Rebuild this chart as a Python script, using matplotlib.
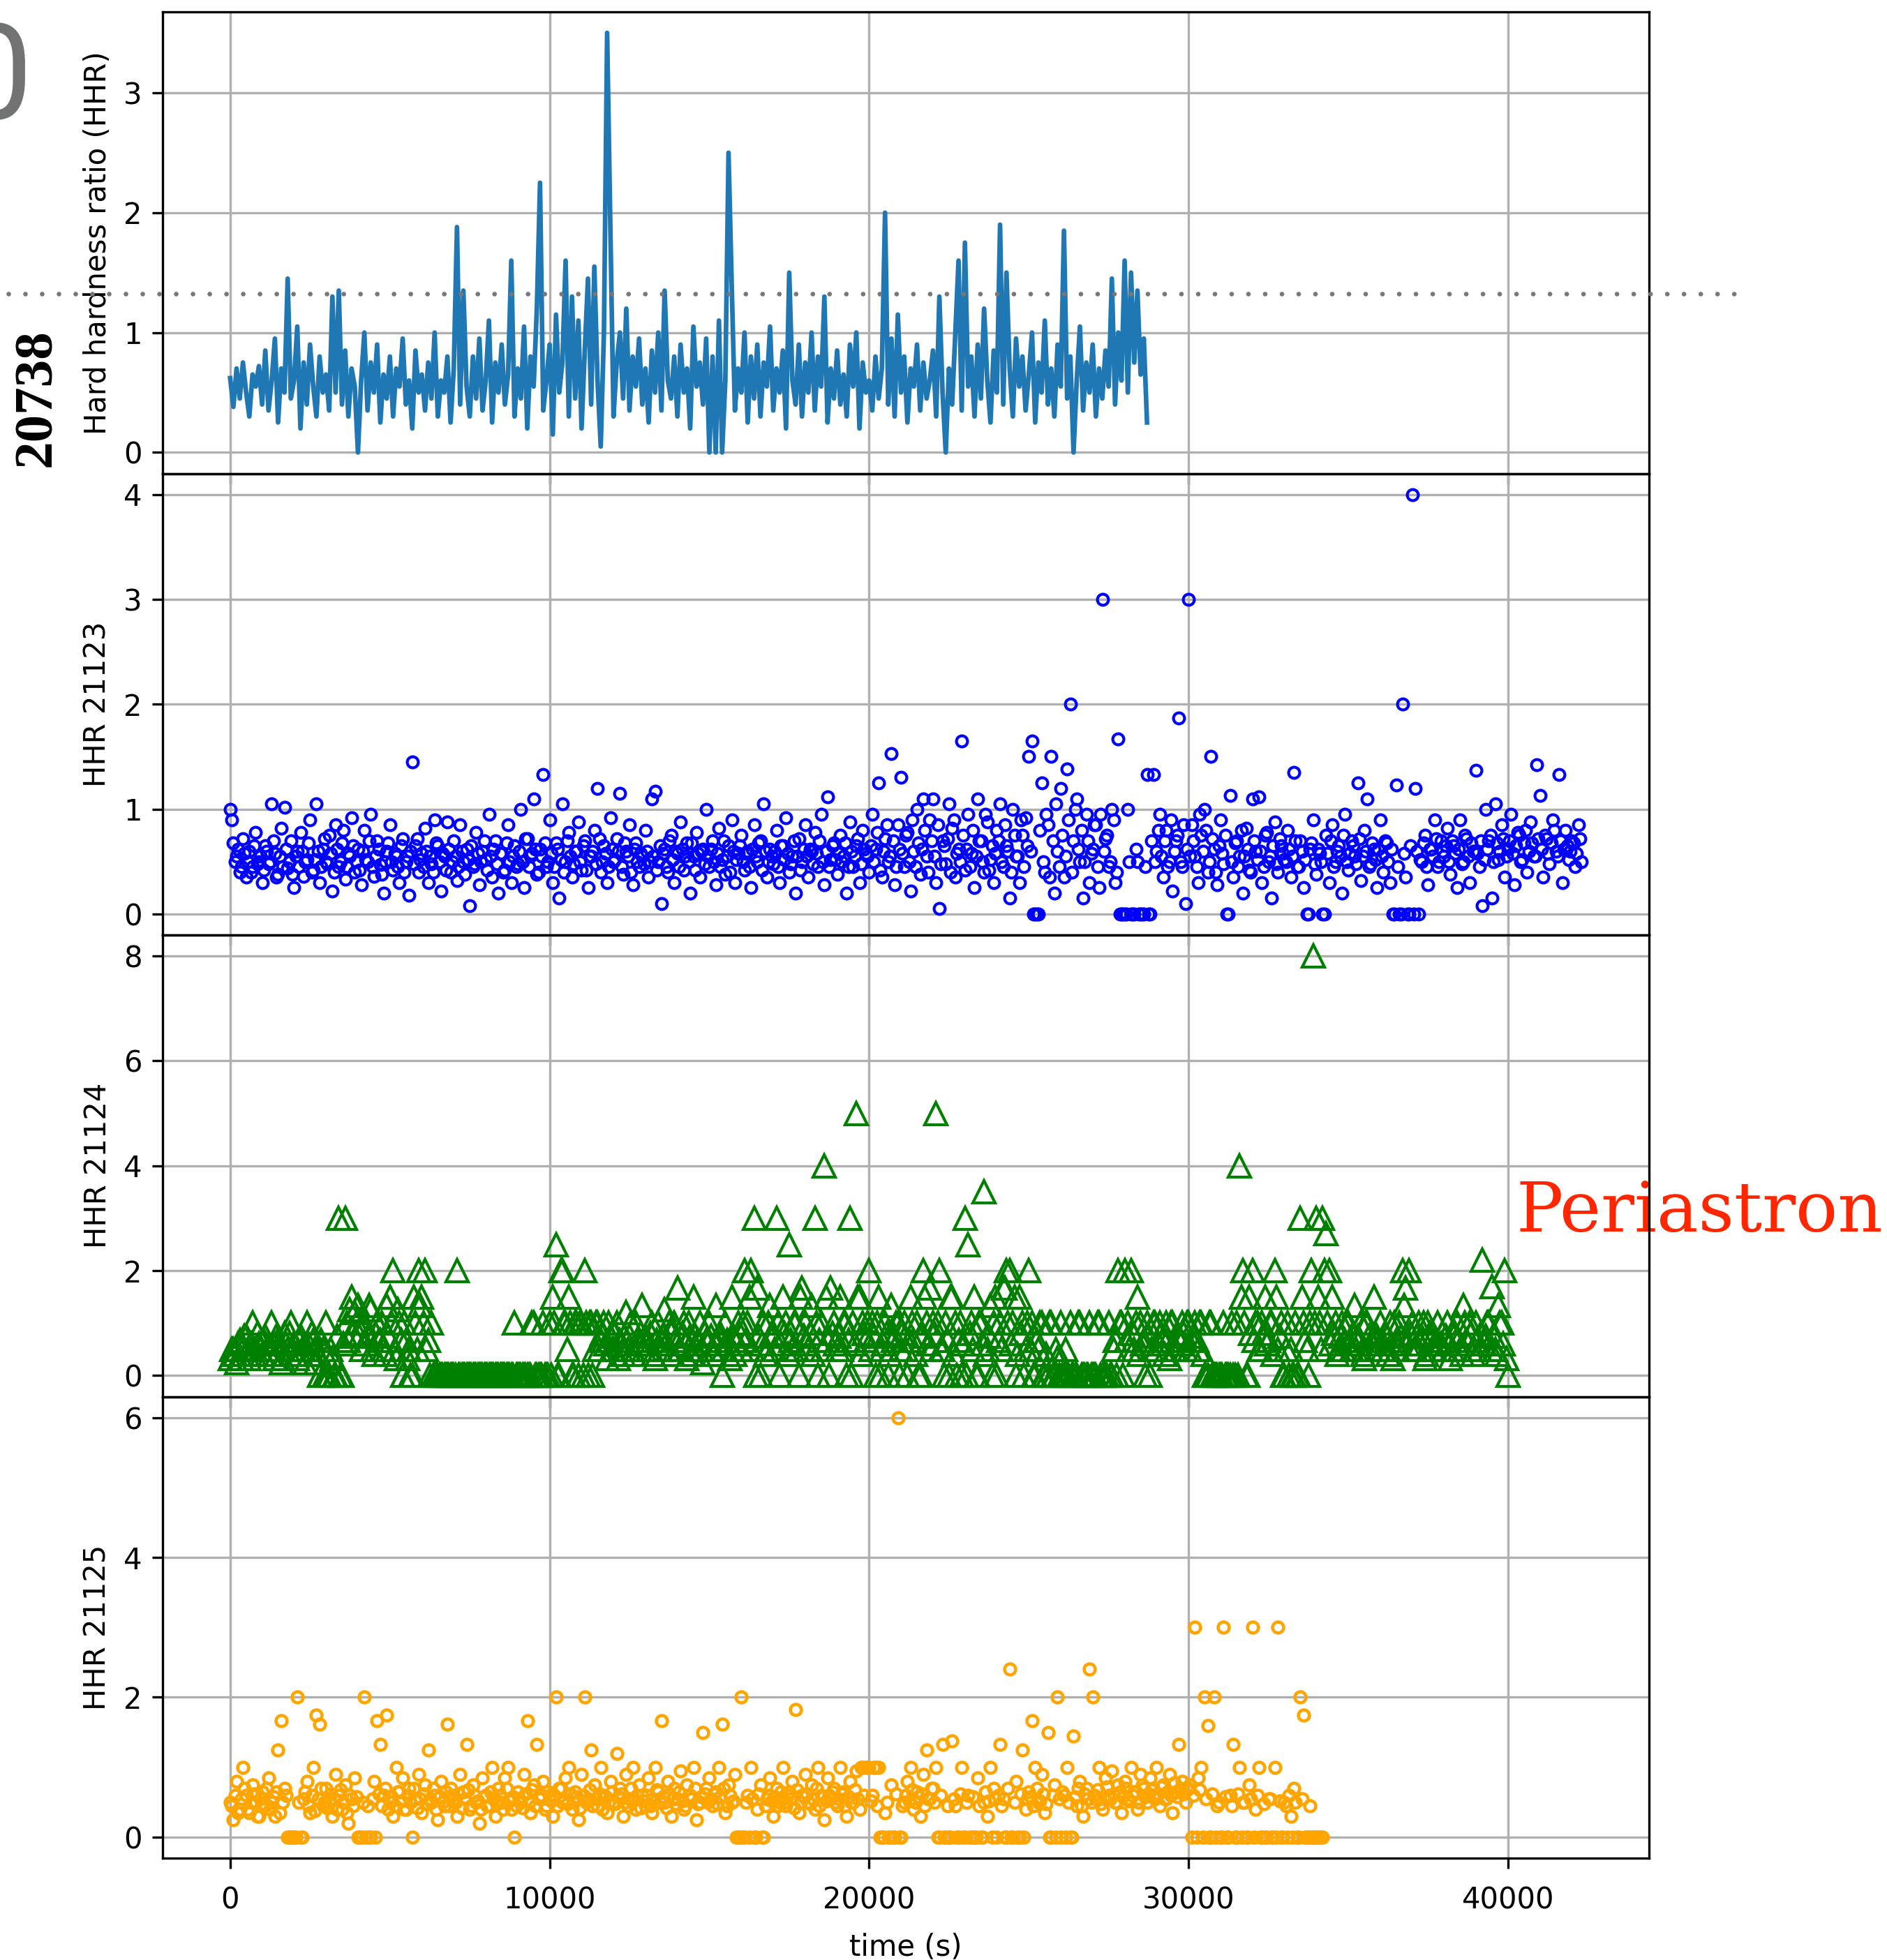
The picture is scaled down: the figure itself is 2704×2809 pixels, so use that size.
import numpy as np
import matplotlib.pyplot as plt
from matplotlib.lines import Line2D
from matplotlib import transforms
from matplotlib.ticker import MultipleLocator

# hardness ratio bins, one value every 100 s
# the *_b lists are the bins shifted by half a step (50 s)
t_step = 100

hhr_20738 = [
    0.62, 0.38, 0.70, 0.45, 0.75, 0.50, 0.30, 0.65, 0.55, 0.72,
    0.40, 0.85, 0.35, 0.60, 0.95, 0.25, 0.70, 0.50, 1.45, 0.45,
    0.60, 1.05, 0.20, 0.75, 0.40, 0.90, 0.55, 0.30, 0.80, 0.50,
    0.65, 0.35, 1.30, 0.50, 1.35, 0.40, 0.85, 0.30, 0.70, 0.55,
    0.00, 0.60, 1.00, 0.35, 0.75, 0.50, 0.90, 0.25, 0.65, 0.45,
    0.80, 0.30, 0.70, 0.55, 0.95, 0.40, 0.60, 0.20, 0.85, 0.50,
    0.65, 0.35, 0.75, 0.45, 1.00, 0.30, 0.60, 0.50, 0.80, 0.25,
    0.70, 1.88, 0.40, 1.35, 0.55, 0.30, 0.80, 0.45, 0.95, 0.35,
    0.60, 1.10, 0.25, 0.75, 0.50, 0.90, 0.40, 0.65, 1.60, 0.30,
    0.70, 0.45, 1.05, 0.20, 0.80, 0.55, 1.20, 2.25, 0.35, 0.60,
    0.90, 0.15, 1.15, 0.50, 0.75, 1.60, 0.30, 1.30, 0.45, 1.10,
    0.20, 0.85, 1.45, 0.40, 1.55, 0.60, 0.05, 1.00, 3.50, 1.90,
    0.30, 0.75, 1.00, 0.45, 1.20, 0.35, 0.80, 0.55, 0.95, 0.40,
    0.70, 0.25, 0.85, 0.50, 1.00, 0.35, 1.35, 0.60, 0.45, 0.80,
    0.30, 0.90, 0.50, 0.70, 0.20, 1.05, 0.55, 0.75, 0.40, 0.95,
    0.00, 0.80, 0.00, 1.10, 0.00, 0.60, 2.50, 1.40, 0.35, 0.70,
    0.50, 1.00, 0.25, 0.80, 0.45, 0.90, 0.30, 0.75, 0.55, 1.05,
    0.35, 0.70, 0.50, 0.85, 0.20, 1.50, 0.60, 0.40, 0.90, 0.30,
    0.75, 0.50, 1.00, 0.35, 0.80, 0.55, 1.30, 0.25, 0.70, 0.45,
    0.85, 0.40, 0.65, 0.30, 0.90, 0.55, 1.00, 0.20, 0.75, 0.50,
    0.60, 0.35, 0.80, 0.45, 0.70, 2.00, 0.40, 0.95, 0.30, 1.15,
    0.50, 0.80, 0.25, 0.70, 0.55, 0.90, 0.35, 0.75, 0.45, 0.60,
    0.85, 0.30, 1.30, 0.50, 0.00, 0.70, 0.40, 1.00, 1.60, 0.35,
    1.75, 0.55, 0.80, 0.30, 0.90, 0.45, 1.20, 0.60, 0.25, 0.85,
    0.50, 1.90, 0.40, 1.50, 0.70, 0.30, 0.95, 0.55, 0.80, 0.35,
    0.65, 1.00, 0.25, 0.75, 0.50, 1.10, 0.40, 0.70, 0.30, 0.90,
    0.55, 1.85, 0.45, 0.80, 0.00, 0.60, 1.05, 0.35, 0.75, 0.50,
    0.90, 0.30, 0.70, 0.45, 0.85, 0.55, 1.45, 0.40, 1.00, 0.60,
    1.60, 0.50, 1.50, 0.75, 1.35, 0.65, 0.95, 0.25,
]

hhr_21123 = [
    1.00, 0.68, 0.55, 0.40, 0.72, 0.35, 0.60, 0.45, 0.78, 0.50,
    0.30, 0.65, 0.48, 1.05, 0.58, 0.38, 0.82, 1.02, 0.44, 0.70,
    0.25, 0.60, 0.78, 0.36, 0.52, 0.90, 0.42, 1.05, 0.30, 0.62,
    0.50, 0.75, 0.22, 0.85, 0.45, 0.68, 0.33, 0.58, 0.92, 0.40,
    0.62, 0.28, 0.80, 0.50, 0.95, 0.36, 0.70, 0.47, 0.20, 0.60,
    0.85, 0.42, 0.55, 0.30, 0.72, 0.50, 0.18, 1.45, 0.65, 0.40,
    0.58, 0.82, 0.30, 0.48, 0.90, 0.65, 0.22, 0.55, 0.88, 0.40,
    0.70, 0.32, 0.85, 0.50, 0.62, 0.08, 0.45, 0.78, 0.28, 0.60,
    0.52, 0.95, 0.35, 0.70, 0.20, 0.58, 0.42, 0.85, 0.30, 0.65,
    0.48, 1.00, 0.25, 0.72, 0.55, 1.10, 0.38, 0.62, 1.33, 0.45,
    0.90, 0.30, 0.68, 0.15, 1.05, 0.50, 0.78, 0.35, 0.60, 0.88,
    0.42, 0.70, 0.25, 0.55, 0.80, 1.20, 0.40, 0.65, 0.30, 0.92,
    0.50, 0.72, 1.15, 0.38, 0.60, 0.85, 0.28, 0.68, 0.45, 0.55,
    0.80, 0.35, 1.10, 1.17, 0.50, 0.10, 0.62, 0.40, 0.75, 0.30,
    0.58, 0.88, 0.42, 0.68, 0.20, 0.55, 0.78, 0.35, 0.62, 1.00,
    0.45, 0.70, 0.28, 0.82, 0.52, 0.38, 0.65, 0.90, 0.30, 0.58,
    0.75, 0.42, 0.60, 0.25, 0.85, 0.50, 0.70, 1.05, 0.35, 0.62,
    0.48, 0.80, 0.30, 0.65, 0.92, 0.40, 0.55, 0.20, 0.72, 0.50,
    0.85, 0.35, 0.60, 0.78, 0.45, 0.95, 0.28, 1.12, 0.52, 0.68,
    0.38, 0.75, 0.55, 0.20, 0.88, 0.45, 0.65, 0.30, 0.80, 0.58,
    0.40, 0.95, 0.62, 1.25, 0.35, 0.72, 0.50, 1.53, 0.28, 0.85,
    1.30, 0.45, 0.78, 0.22, 0.60, 1.00, 0.38, 1.10, 0.55, 0.90,
    1.10, 0.30, 0.05, 0.70, 0.48, 1.05, 0.82, 0.35, 0.62, 1.65,
    0.42, 0.95, 0.58, 0.25, 1.10, 0.70, 0.40, 0.88, 0.52, 0.30,
    0.80, 1.05, 0.45, 0.65, 0.15, 1.00, 0.55, 0.30, 0.75, 0.92,
    1.50, 1.65, 0.00, 0.00, 1.25, 0.40, 0.85, 1.50, 0.20, 0.60,
    1.20, 0.35, 1.38, 2.00, 0.70, 1.10, 0.50, 0.15, 0.95, 0.30,
    0.62, 0.85, 0.25, 3.00, 0.72, 0.45, 1.00, 0.30, 1.67, 0.00,
    0.00, 1.00, 0.00, 0.00, 0.50, 0.00, 0.00, 1.33, 0.00, 1.33,
    0.60, 0.95, 0.35, 0.80, 0.50, 0.22, 0.70, 1.87, 0.45, 0.10,
    3.00, 0.85, 0.55, 0.30, 0.75, 1.00, 0.40, 1.50, 0.62, 0.28,
    0.90, 0.48, 0.00, 1.13, 0.35, 0.70, 0.55, 0.20, 0.82, 0.42,
    1.10, 0.60, 1.12, 0.30, 0.75, 0.50, 0.15, 0.88, 0.40, 0.65,
    0.52, 0.80, 0.35, 1.35, 0.45, 0.70, 0.25, 0.00, 0.62, 0.90,
    0.38, 0.58, 0.00, 0.75, 0.30, 0.85, 0.50, 0.65, 0.20, 0.95,
    0.42, 0.70, 0.55, 1.25, 0.32, 0.80, 1.10, 0.48, 0.62, 0.25,
    0.90, 0.40, 0.68, 0.30, 0.00, 1.23, 0.00, 2.00, 0.35, 0.00,
    4.00, 1.20, 0.00, 0.50, 0.75, 0.28, 0.62, 0.90, 0.45, 0.70,
    0.55, 0.82, 0.38, 0.65, 0.25, 0.90, 0.50, 0.72, 0.30, 0.60,
    1.37, 0.45, 0.08, 1.00, 0.70, 0.15, 1.05, 0.52, 0.85, 0.35,
    0.62, 0.95, 0.28, 0.78, 0.50, 0.68, 0.40, 0.88, 0.55, 1.42,
    1.13, 0.35, 0.72, 0.48, 0.90, 0.60, 1.33, 0.30, 0.80, 0.52,
    0.70, 0.45, 0.85, 0.50,
]

hhr_21123_b = [
    0.90, 0.50, 0.62, 0.45, 0.58, 0.50, 0.40, 0.65, 0.48, 0.55,
    0.42, 0.60, 0.50, 0.70, 0.35, 0.55, 0.45, 0.62, 0.50, 0.38,
    0.55, 0.45, 0.60, 0.50, 0.68, 0.40, 0.52, 0.60, 0.45, 0.72,
    0.48, 0.58, 0.40, 0.62, 0.50, 0.80, 0.45, 0.55, 0.65, 0.50,
    0.42, 0.60, 0.52, 0.70, 0.45, 0.55, 0.62, 0.38, 0.50, 0.68,
    0.50, 0.58, 0.45, 0.65, 0.40, 0.55, 0.60, 0.48, 0.72, 0.52,
    0.45, 0.60, 0.55, 0.40, 0.68, 0.50, 0.58, 0.42, 0.62, 0.50,
    0.55, 0.45, 0.60, 0.38, 0.52, 0.65, 0.48, 0.58, 0.50, 0.70,
    0.42, 0.55, 0.62, 0.48, 0.58, 0.40, 0.68, 0.50, 0.55, 0.45,
    0.60, 0.50, 0.72, 0.45, 0.58, 0.62, 0.40, 0.55, 0.68, 0.50,
    0.58, 0.45, 0.62, 0.52, 0.40, 0.70, 0.55, 0.48, 0.60, 0.50,
    0.65, 0.42, 0.55, 0.60, 0.48, 0.72, 0.50, 0.58, 0.45, 0.62,
    0.52, 0.60, 0.45, 0.68, 0.55, 0.40, 0.62, 0.50, 0.58, 0.48,
    0.60, 0.50, 0.55, 0.42, 0.65, 0.58, 0.45, 0.70, 0.52, 0.60,
    0.45, 0.62, 0.55, 0.50, 0.68, 0.42, 0.58, 0.60, 0.48, 0.55,
    0.62, 0.50, 0.58, 0.45, 0.70, 0.55, 0.40, 0.60, 0.52, 0.65,
    0.50, 0.58, 0.45, 0.62, 0.55, 0.68, 0.42, 0.60, 0.50, 0.55,
    0.60, 0.45, 0.65, 0.52, 0.58, 0.48, 0.70, 0.55, 0.42, 0.62,
    0.55, 0.62, 0.48, 0.58, 0.70, 0.50, 0.60, 0.45, 0.65, 0.52,
    0.58, 0.50, 0.68, 0.45, 0.60, 0.55, 0.72, 0.48, 0.62, 0.55,
    0.65, 0.50, 0.78, 0.42, 0.60, 0.85, 0.55, 0.70, 0.45, 0.62,
    0.58, 0.75, 0.50, 0.90, 0.45, 0.68, 0.62, 0.80, 0.40, 0.70,
    0.55, 0.85, 0.48, 0.65, 0.72, 0.40, 0.90, 0.58, 0.50, 0.75,
    0.62, 0.45, 0.80, 0.55, 0.70, 0.50, 0.95, 0.42, 0.65, 0.58,
    0.70, 0.50, 0.85, 0.60, 0.40, 0.75, 0.55, 0.90, 0.45, 0.65,
    0.60, 0.00, 0.00, 0.80, 0.50, 0.95, 0.35, 0.70, 1.05, 0.45,
    0.75, 0.55, 0.90, 0.40, 1.00, 0.62, 0.80, 0.50, 0.70, 0.58,
    0.85, 0.45, 0.95, 0.60, 0.75, 0.50, 0.90, 0.40, 0.00, 0.00,
    0.00, 0.50, 0.00, 0.62, 0.00, 0.00, 0.45, 0.00, 0.70, 0.50,
    0.80, 0.55, 0.70, 0.45, 0.90, 0.60, 0.75, 0.50, 0.85, 0.62,
    0.55, 0.70, 0.45, 0.95, 0.60, 0.80, 0.50, 0.72, 0.40, 0.65,
    0.58, 0.75, 0.00, 0.50, 0.68, 0.45, 0.80, 0.55, 0.62, 0.40,
    0.70, 0.52, 0.60, 0.45, 0.78, 0.55, 0.65, 0.48, 0.72, 0.58,
    0.50, 0.62, 0.55, 0.70, 0.45, 0.60, 0.52, 0.00, 0.68, 0.48,
    0.62, 0.50, 0.00, 0.58, 0.70, 0.45, 0.60, 0.55, 0.75, 0.50,
    0.58, 0.65, 0.48, 0.72, 0.55, 0.60, 0.45, 0.68, 0.52, 0.62,
    0.55, 0.70, 0.50, 0.62, 0.00, 0.45, 0.00, 0.58, 0.00, 0.65,
    0.00, 0.60, 0.52, 0.68, 0.45, 0.62, 0.55, 0.72, 0.50, 0.60,
    0.65, 0.50, 0.70, 0.58, 0.62, 0.48, 0.75, 0.55, 0.68, 0.60,
    0.58, 0.70, 0.52, 0.62, 0.75, 0.50, 0.68, 0.60, 0.72, 0.55,
    0.70, 0.58, 0.65, 0.75, 0.52, 0.80, 0.60, 0.68, 0.55, 0.72,
    0.62, 0.75, 0.58, 0.68, 0.80, 0.55, 0.70, 0.62, 0.65, 0.60,
    0.68, 0.58, 0.72,
]

hhr_21124 = [
    0.33, 0.50, 0.25, 0.67, 0.50, 0.75, 0.33, 1.00, 0.50, 0.60,
    0.40, 0.75, 0.50, 1.00, 0.33, 0.67, 0.25, 0.80, 0.50, 1.00,
    0.60, 0.33, 0.75, 0.50, 1.00, 0.40, 0.67, 0.25, 0.00, 0.50,
    1.00, 0.00, 0.33, 0.00, 3.00, 0.00, 3.00, 0.67, 1.50, 1.20,
    1.33, 0.50, 1.00, 0.75, 1.25, 0.40, 1.00, 0.67, 0.50, 1.33,
    1.50, 2.00, 0.33, 1.00, 0.00, 0.67, 0.50, 0.00, 1.00, 2.00,
    1.50, 2.00, 0.67, 1.00, 0.00, 0.00, 0.00, 0.00, 0.00, 0.00,
    0.00, 2.00, 0.00, 0.00, 0.00, 0.00, 0.00, 0.00, 0.00, 0.00,
    0.00, 0.00, 0.00, 0.00, 0.00, 0.00, 0.00, 0.00, 0.00, 1.00,
    0.00, 0.00, 0.00, 0.00, 0.00, 1.00, 0.00, 0.00, 1.00, 0.00,
    1.00, 1.50, 2.50, 0.00, 2.00, 1.00, 1.50, 0.00, 1.00, 0.00,
    1.00, 2.00, 0.00, 1.00, 0.50, 1.00, 0.67, 1.00, 0.33, 0.75,
    0.50, 1.00, 0.67, 0.40, 1.20, 0.75, 0.50, 1.00, 0.60, 1.33,
    0.75, 0.50, 1.00, 0.33, 1.00, 0.67, 1.25, 0.50, 0.80, 1.00,
    1.67, 0.50, 1.00, 0.33, 0.75, 1.50, 0.50, 1.00, 0.25, 0.67,
    1.00, 0.50, 1.33, 0.75, 0.00, 1.00, 0.60, 1.50, 0.40, 1.00,
    0.50, 2.00, 1.00, 2.00, 3.00, 1.67, 0.00, 1.00, 0.50, 1.33,
    0.75, 3.00, 0.00, 1.50, 1.00, 2.50, 0.50, 1.00, 0.00, 1.67,
    1.00, 0.50, 1.33, 3.00, 0.00, 1.00, 4.00, 0.67, 1.67, 1.00,
    0.50, 1.50, 1.00, 0.00, 3.00, 1.00, 5.00, 1.50, 1.00, 0.67,
    2.00, 1.00, 0.00, 1.50, 0.50, 1.00, 0.00, 1.33, 0.75, 1.00,
    0.50, 1.00, 0.00, 1.50, 0.67, 1.00, 0.00, 2.00, 1.00, 1.67,
    1.00, 5.00, 2.00, 0.50, 1.00, 0.00, 1.50, 1.00, 0.67, 0.00,
    3.00, 2.50, 1.00, 1.50, 0.00, 1.00, 3.50, 0.50, 1.33, 1.00,
    0.00, 1.00, 1.67, 2.00, 2.00, 1.00, 0.00, 1.50, 1.00, 0.50,
    2.00, 1.00, 0.00, 0.50, 1.00, 0.00, 0.00, 1.00, 0.00, 0.33,
    1.00, 0.00, 0.00, 1.00, 0.00, 0.00, 1.00, 0.00, 0.00, 1.00,
    0.00, 0.00, 1.00, 0.00, 0.00, 1.00, 0.00, 0.67, 2.00, 1.00,
    2.00, 1.00, 2.00, 0.50, 1.50, 1.00, 0.67, 1.00, 0.00, 1.00,
    0.50, 1.00, 0.67, 1.00, 0.33, 1.00, 0.50, 0.75, 1.00, 0.50,
    1.00, 0.67, 1.00, 0.50, 1.00, 0.00, 0.00, 1.00, 0.00, 0.00,
    0.00, 1.00, 0.00, 0.00, 0.00, 1.00, 4.00, 2.00, 0.00, 1.50,
    2.00, 1.00, 0.50, 1.00, 1.50, 0.67, 1.00, 2.00, 0.50, 1.00,
    0.00, 1.00, 0.50, 0.00, 0.00, 3.00, 1.00, 0.50, 1.00, 8.00,
    3.00, 1.00, 3.00, 2.70, 2.00, 1.50, 1.00, 0.50, 1.00, 0.67,
    1.00, 0.50, 1.33, 0.75, 1.00, 0.33, 1.00, 0.50, 1.50, 0.67,
    1.00, 0.50, 0.75, 1.00, 0.33, 0.67, 1.00, 2.00, 1.67, 2.00,
    1.00, 0.50, 1.00, 0.75, 0.33, 1.00, 0.67, 0.50, 1.00, 0.60,
    0.50, 1.00, 0.33, 0.75, 1.00, 0.50, 1.33, 0.67, 1.00, 0.40,
    1.00, 0.50, 2.20, 0.75, 1.00, 1.70, 0.50, 1.33, 1.00, 2.00,
    0.00,
]

hhr_21124_b = [
    0.50, 0.40, 0.60, 0.33, 0.75, 0.50, 0.60, 0.40, 0.80, 0.50,
    0.67, 0.50, 0.40, 0.60, 0.75, 0.50, 0.33, 0.60, 0.80, 0.50,
    0.40, 0.67, 0.50, 0.25, 0.60, 0.80, 0.50, 0.40, 0.67, 0.00,
    0.00, 0.50, 0.00, 0.75, 0.00, 0.60, 1.00, 1.25, 0.80, 1.00,
    0.75, 1.00, 0.60, 1.33, 0.50, 0.80, 0.67, 1.00, 0.40, 0.75,
    1.00, 0.50, 1.25, 0.67, 1.00, 0.33, 0.00, 1.50, 0.50, 1.33,
    1.00, 0.50, 0.00, 0.00, 0.00, 0.00, 0.00, 0.00, 0.00, 0.00,
    0.00, 0.00, 0.00, 0.00, 0.00, 0.00, 0.00, 0.00, 0.00, 0.00,
    0.00, 0.00, 0.00, 0.00, 0.00, 0.00, 0.00, 0.00, 0.00, 0.00,
    0.00, 0.00, 0.00, 0.00, 1.00, 0.00, 0.00, 0.00, 0.00, 0.00,
    0.00, 1.00, 0.00, 2.00, 1.00, 0.50, 1.00, 0.00, 1.00, 1.00,
    0.00, 1.00, 1.00, 0.00, 1.00, 0.50, 0.80, 0.60, 1.00, 0.50,
    0.80, 0.33, 0.60, 0.75, 0.50, 1.00, 0.40, 0.67, 0.80, 0.50,
    0.60, 0.80, 0.40, 0.67, 0.50, 0.75, 0.60, 1.00, 0.40, 0.67,
    0.50, 0.80, 0.60, 1.00, 0.40, 0.75, 0.67, 0.50, 0.80, 0.60,
    0.75, 0.40, 0.60, 0.80, 0.50, 0.67, 0.33, 0.75, 0.60, 0.80,
    1.00, 0.67, 1.50, 0.50, 0.00, 0.75, 0.60, 0.40, 1.00, 0.80,
    0.50, 1.00, 0.60, 0.80, 0.40, 0.67, 1.00, 0.50, 1.50, 0.75,
    0.60, 0.80, 0.40, 1.00, 0.67, 0.50, 1.50, 0.00, 0.80, 0.60,
    0.75, 0.50, 1.00, 0.67, 0.00, 0.60, 1.50, 0.40, 0.80, 1.00,
    0.50, 0.75, 1.00, 0.00, 0.60, 0.80, 0.40, 0.67, 1.00, 0.00,
    0.80, 0.50, 0.67, 1.00, 0.40, 0.00, 0.75, 1.50, 0.60, 0.50,
    0.80, 1.00, 0.50, 0.00, 0.67, 1.50, 0.40, 0.00, 1.00, 0.60,
    0.00, 0.80, 0.50, 0.00, 1.00, 0.60, 0.40, 0.75, 0.00, 1.50,
    0.67, 0.50, 1.67, 1.00, 0.60, 1.50, 0.40, 0.80, 0.00, 1.00,
    0.50, 0.00, 0.67, 1.00, 0.00, 0.40, 1.00, 0.00, 0.50, 0.00,
    0.00, 0.50, 0.00, 0.00, 0.00, 1.00, 0.00, 0.00, 0.00, 0.00,
    0.00, 1.00, 0.00, 0.00, 0.00, 0.00, 0.50, 0.00, 1.00, 0.00,
    0.67, 0.50, 0.80, 1.00, 0.40, 0.60, 0.00, 0.75, 0.50, 1.00,
    0.60, 0.80, 0.40, 0.67, 1.00, 0.50, 0.75, 0.60, 0.80, 1.00,
    0.50, 0.75, 0.67, 1.00, 0.40, 0.00, 1.00, 0.00, 0.00, 0.00,
    0.00, 0.00, 0.00, 1.00, 0.00, 0.00, 1.50, 1.00, 0.00, 0.80,
    0.67, 1.00, 0.50, 0.80, 0.60, 1.00, 0.40, 1.50, 0.75, 0.00,
    0.50, 0.00, 0.00, 1.00, 0.00, 1.50, 0.67, 0.00, 2.00, 1.00,
    1.50, 0.50, 2.00, 1.00, 0.60, 0.80, 0.40, 0.75, 0.50, 1.00,
    0.60, 0.80, 0.50, 0.67, 0.40, 1.00, 0.75, 0.60, 0.80, 0.50,
    0.67, 0.80, 0.40, 0.60, 1.00, 0.50, 0.75, 1.33, 0.60, 0.80,
    0.50, 0.75, 0.60, 1.00, 0.40, 0.80, 0.50, 0.67, 0.60, 0.80,
    0.75, 0.60, 0.50, 0.80, 0.67, 0.40, 1.00, 0.60, 0.80, 0.50,
    0.67, 0.80, 0.60, 1.00, 0.50, 0.75, 0.40, 1.00, 0.60, 0.33,
]

hhr_21125 = [
    0.50, 0.25, 0.80, 0.40, 1.00, 0.60, 0.35, 0.75, 0.50, 0.30,
    0.65, 0.45, 0.85, 0.50, 0.30, 1.25, 1.67, 0.70, 0.00, 0.00,
    0.00, 2.00, 0.00, 0.55, 0.80, 0.35, 1.00, 1.75, 1.62, 0.45,
    0.70, 0.50, 0.30, 0.90, 0.60, 0.40, 0.75, 0.20, 0.55, 0.85,
    0.00, 0.00, 2.00, 0.45, 0.00, 0.80, 1.67, 1.33, 0.60, 1.75,
    0.50, 0.30, 1.00, 0.65, 0.85, 0.40, 0.70, 0.00, 0.55, 0.90,
    0.35, 0.75, 1.25, 0.50, 0.60, 0.25, 0.80, 0.45, 1.62, 0.70,
    0.55, 0.30, 0.90, 0.65, 1.33, 0.40, 0.75, 0.50, 0.20, 0.85,
    0.60, 0.45, 1.00, 0.30, 0.70, 0.50, 0.85, 1.00, 0.40, 0.00,
    0.65, 0.50, 0.90, 1.67, 0.35, 0.75, 1.33, 0.55, 0.80, 0.45,
    0.60, 0.30, 2.00, 0.70, 0.50, 0.85, 1.00, 0.40, 0.65, 0.25,
    0.90, 2.00, 0.55, 1.25, 0.75, 0.45, 1.00, 0.60, 0.35, 0.80,
    0.50, 1.20, 0.70, 0.30, 0.90, 0.55, 1.00, 0.40, 0.75, 0.60,
    0.45, 0.85, 0.35, 1.00, 0.65, 1.67, 0.50, 0.80, 0.30, 0.70,
    0.55, 0.95, 0.40, 0.75, 0.60, 1.00, 0.25, 0.50, 1.50, 0.70,
    0.85, 0.45, 0.65, 1.00, 1.62, 0.35, 0.75, 0.50, 0.90, 0.00,
    2.00, 0.00, 0.60, 1.00, 0.00, 0.40, 0.75, 0.00, 0.55, 0.85,
    0.30, 0.70, 0.50, 1.00, 0.45, 0.65, 0.80, 1.83, 0.35, 0.60,
    0.90, 0.50, 0.75, 0.40, 1.00, 0.60, 0.25, 0.85, 0.55, 0.70,
    0.45, 1.00, 0.65, 0.30, 0.80, 0.50, 0.95, 0.40, 1.00, 1.00,
    1.00, 0.60, 1.00, 1.00, 0.00, 0.35, 0.00, 0.75, 0.00, 6.00,
    0.00, 0.50, 0.80, 1.00, 0.40, 0.65, 0.30, 0.90, 1.25, 0.55,
    0.70, 1.00, 0.00, 1.33, 0.00, 0.00, 1.38, 0.45, 0.00, 1.00,
    0.00, 0.60, 0.00, 0.00, 0.85, 0.00, 0.50, 0.30, 1.00, 0.70,
    0.00, 1.33, 0.55, 0.00, 2.40, 0.00, 0.80, 0.00, 1.25, 0.40,
    0.65, 1.67, 1.00, 0.50, 0.90, 0.35, 1.50, 0.00, 0.75, 2.00,
    0.00, 0.60, 1.00, 0.00, 1.45, 0.45, 0.80, 0.30, 0.70, 2.40,
    2.00, 0.55, 1.00, 0.40, 0.85, 0.60, 0.95, 0.50, 0.75, 0.35,
    0.80, 0.55, 1.00, 0.65, 0.40, 0.90, 0.70, 0.50, 0.85, 0.60,
    1.00, 0.45, 0.75, 0.55, 0.90, 0.35, 0.65, 1.33, 0.80, 0.50,
    0.70, 0.00, 3.00, 0.85, 1.00, 2.00, 1.60, 0.00, 2.00, 0.45,
    0.00, 3.00, 0.00, 0.60, 1.33, 0.00, 1.00, 0.50, 0.00, 0.75,
    3.00, 0.40, 1.00, 0.00, 0.00, 0.55, 0.00, 1.00, 3.00, 0.00,
    0.50, 0.00, 0.30, 0.70, 0.00, 2.00, 1.75, 0.00, 0.45, 0.00,
    0.00, 0.00, 0.00,
]

hhr_21125_b = [
    0.45, 0.60, 0.35, 0.55, 0.70, 0.40, 0.50, 0.62, 0.30, 0.55,
    0.48, 0.70, 0.40, 0.58, 0.65, 0.35, 0.50, 0.60, 0.00, 0.00,
    0.00, 0.50, 0.00, 0.65, 0.45, 0.60, 0.38, 0.55, 0.70, 0.50,
    0.42, 0.62, 0.55, 0.40, 0.68, 0.50, 0.35, 0.60, 0.45, 0.58,
    0.00, 0.50, 0.00, 0.00, 0.55, 0.00, 0.62, 0.45, 0.70, 0.40,
    0.58, 0.45, 0.65, 0.52, 0.40, 0.60, 0.50, 0.70, 0.42, 0.55,
    0.62, 0.48, 0.55, 0.70, 0.40, 0.58, 0.50, 0.65, 0.45, 0.60,
    0.50, 0.62, 0.42, 0.55, 0.68, 0.45, 0.60, 0.52, 0.40, 0.58,
    0.45, 0.65, 0.55, 0.48, 0.60, 0.40, 0.70, 0.52, 0.58, 0.45,
    0.55, 0.42, 0.62, 0.50, 0.68, 0.45, 0.58, 0.60, 0.40, 0.65,
    0.52, 0.60, 0.45, 0.70, 0.55, 0.48, 0.62, 0.50, 0.58, 0.42,
    0.60, 0.50, 0.68, 0.45, 0.55, 0.62, 0.40, 0.58, 0.50, 0.65,
    0.48, 0.58, 0.62, 0.50, 0.45, 0.70, 0.55, 0.60, 0.42, 0.52,
    0.60, 0.45, 0.55, 0.68, 0.50, 0.58, 0.42, 0.62, 0.55, 0.48,
    0.65, 0.52, 0.45, 0.60, 0.55, 0.70, 0.48, 0.58, 0.62, 0.50,
    0.55, 0.62, 0.48, 0.58, 0.70, 0.45, 0.60, 0.52, 0.00, 0.00,
    0.00, 0.50, 0.00, 0.55, 0.00, 0.62, 0.00, 0.45, 0.60, 0.52,
    0.58, 0.45, 0.65, 0.50, 0.60, 0.55, 0.42, 0.68, 0.50, 0.58,
    0.62, 0.48, 0.55, 0.70, 0.45, 0.58, 0.52, 0.60, 0.65, 0.50,
    0.55, 0.62, 0.45, 0.58, 0.50, 0.68, 0.55, 1.00, 0.60, 1.00,
    0.52, 1.00, 0.45, 0.00, 0.00, 0.50, 0.00, 0.00, 0.62, 0.00,
    0.45, 0.60, 0.52, 0.68, 0.50, 0.58, 0.62, 0.45, 0.55, 0.70,
    0.50, 0.00, 0.60, 0.00, 0.45, 0.00, 0.55, 0.00, 0.62, 0.00,
    0.50, 0.00, 0.58, 0.00, 0.45, 0.00, 0.65, 0.52, 0.00, 0.55,
    0.60, 0.45, 0.00, 0.70, 0.00, 0.50, 0.00, 0.62, 0.00, 0.55,
    0.58, 0.45, 0.70, 0.52, 0.62, 0.48, 0.00, 0.60, 0.00, 0.55,
    0.65, 0.00, 0.50, 0.00, 0.58, 0.70, 0.45, 0.62, 0.55, 0.50,
    0.60, 0.68, 0.48, 0.58, 0.72, 0.55, 0.62, 0.50, 0.65, 0.58,
    0.70, 0.52, 0.60, 0.65, 0.50, 0.75, 0.58, 0.62, 0.68, 0.55,
    0.62, 0.72, 0.55, 0.65, 0.60, 0.78, 0.58, 0.70, 0.62, 0.68,
    0.75, 0.60, 0.00, 0.68, 0.00, 0.55, 0.00, 0.62, 0.00, 0.50,
    0.00, 0.58, 0.00, 0.45, 0.00, 0.62, 0.00, 0.50, 0.00, 0.55,
    0.00, 0.60, 0.00, 0.48, 0.00, 0.55, 0.00, 0.00, 0.52, 0.00,
    0.45, 0.60, 0.00, 0.50, 0.00, 0.55, 0.00, 0.00, 0.00, 0.00,
    0.00, 0.00,
]


def bin_times(values, offset=0):
    return np.arange(len(values)) * t_step + offset


t_20738 = bin_times(hhr_20738)
t_21123 = np.concatenate([bin_times(hhr_21123), bin_times(hhr_21123_b, 50)])
t_21124 = np.concatenate([bin_times(hhr_21124), bin_times(hhr_21124_b, 50)])
t_21125 = np.concatenate([bin_times(hhr_21125), bin_times(hhr_21125_b, 50)])
y_21123 = hhr_21123 + hhr_21123_b
y_21124 = hhr_21124 + hhr_21124_b
y_21125 = hhr_21125 + hhr_21125_b

W, H = 2704, 2809
fig, axs = plt.subplots(4, 1, sharex=True, figsize=(W / 300, H / 300), dpi=300)
fig.subplots_adjust(left=233 / W, right=2363 / W, top=1 - 17 / H,
                    bottom=1 - 2663 / H, hspace=0)

axs[0].plot(t_20738, hhr_20738, color='C0', lw=1.6)
axs[0].set_ylabel('Hard hardness ratio (HHR)')

axs[1].plot(t_21123, y_21123, 'o', color='b', mfc='none', ms=3.8, mew=1.0)
axs[1].set_ylabel('HHR 21123')

axs[2].plot(t_21124, y_21124, '^', color='g', mfc='none', ms=7.6, mew=1.0)
axs[2].set_ylabel('HHR 21124')

axs[3].plot(t_21125, y_21125, 'o', color='orange', mfc='none', ms=3.8, mew=1.1)
axs[3].set_ylabel('HHR 21125')
axs[3].yaxis.set_major_locator(MultipleLocator(2))
axs[3].tick_params(axis='x', pad=6)
axs[3].set_xlabel('time (s)', labelpad=6)

for ax in axs:
    ax.grid(True)
    ax.patch.set_alpha(0)

# threshold line, runs past the axes on both sides
trans = transforms.blended_transform_factory(fig.transFigure, axs[0].transData)
fig.add_artist(Line2D([12 / W, 2488 / W], [1.325, 1.325], transform=trans,
                      color='#777777', lw=1.6, ls=(0, (0.001, 3.6)),
                      dash_capstyle='round', clip_on=False))

fig.text(54 / W, 1 - 570 / H, '20738', rotation=90, ha='center', va='center',
         family='Liberation Serif', fontsize=19, weight='bold', zorder=-1)
fig.text(46 / W, 1 - 170 / H, '0', ha='right', va='baseline',
         family='Roboto', fontsize=46, color='#707372', zorder=-1)
fig.text(2172 / W, 1 - 1765 / H, 'Periastron', ha='left', va='baseline',
         family='DejaVu Serif', fontsize=24, color='#ff2600', zorder=-1)

fig.savefig('out.png', dpi=300)
